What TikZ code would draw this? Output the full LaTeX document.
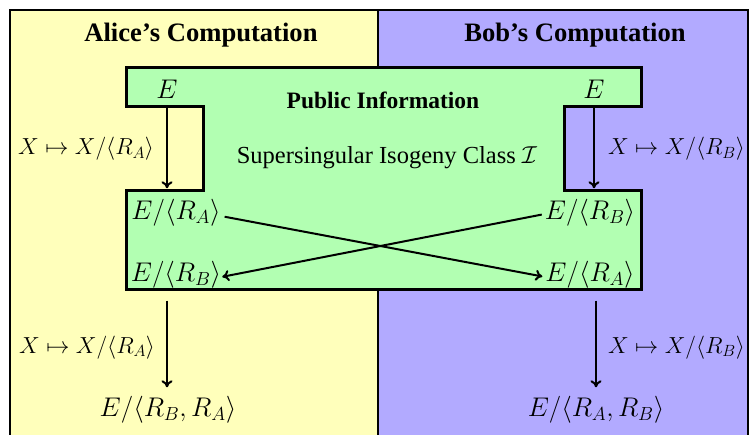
\RequirePackage{fix-cm}
\documentclass[tikz,border=0pt]{standalone}
\usepackage{fontspec}
\setmainfont{Liberation Serif}
\usetikzlibrary{arrows.meta}

\definecolor{alicebg}{RGB}{255,255,187}
\definecolor{bobbg}{RGB}{178,170,255}
\definecolor{pubbg}{RGB}{178,255,178}

\begin{document}
\begin{tikzpicture}[x=1pt,y=-1pt,
  title/.style={font=\fontsize{26.6}{30}\selectfont\bfseries, inner sep=0pt},
  pubtitle/.style={font=\fontsize{23.5}{28}\selectfont\bfseries, inner sep=0pt},
  body/.style={font=\fontsize{24.5}{28}\selectfont, inner sep=0pt},
  m/.style={font=\fontsize{27}{31}\selectfont, inner sep=0pt},
  lab/.style={font=\fontsize{23.2}{27}\selectfont, inner sep=0pt},
  arr/.style={line width=2pt, -{Computer Modern Rightarrow[length=7pt,width=11pt]}},
  panel/.style={line width=2pt}]
\clip (0,0) rectangle (750,435);
\fill[white] (0,0) rectangle (750,435);

% the two parties' working areas
\filldraw[panel, fill=alicebg] (10,10) rectangle (378,445);
\filldraw[panel, fill=bobbg] (378,10) rectangle (748,445);

% shared public region
\filldraw[fill=pubbg, line width=3pt, line join=miter]
  (126,68) -- (641,68) -- (641,107) -- (564,107) -- (564,191) -- (641,191)
  -- (641,290) -- (126,290) -- (126,191) -- (203,191) -- (203,107)
  -- (126,107) -- cycle;

% headings
\node[title] (alice) at (201,35) {Alice’s Computation};
\node[title] (bob) at (575,35) {Bob’s Computation};
\node[pubtitle] (pub) at (383,100) {Public Information};
\node[body] (class) at (387,158) {Supersingular Isogeny Class $\mathcal{I}$};

% curves
\node[m] (EL) at (167,89) {$E$};
\node[m] (ER) at (594,89) {$E$};
\node[m] (LA) at (176,213) {$E/\langle R_A\rangle$};
\node[m] (RB) at (590,213) {$E/\langle R_B\rangle$};
\node[m] (LB) at (176,275) {$E/\langle R_B\rangle$};
\node[m] (RA) at (590,275) {$E/\langle R_A\rangle$};
\node[m] (LBA) at (168,410) {$E/\langle R_B,R_A\rangle$};
\node[m] (RAB) at (596,410) {$E/\langle R_A,R_B\rangle$};

% isogenies
\draw[arr, shorten <=9pt, shorten >=11pt] (EL.south) -- (EL.south |- LA.north)
  node[lab, midway, left=12pt] (phiA1) {$X\mapsto X/\langle R_A\rangle$};
\draw[arr, shorten <=9pt, shorten >=11pt] (ER.south) -- (ER.south |- RB.north)
  node[lab, midway, right=13pt] (phiB1) {$X\mapsto X/\langle R_B\rangle$};

\draw[arr, shorten <=4pt, shorten >=3pt] ([yshift=-3pt]LA.east) -- ([yshift=-2pt]RA.west);
\draw[arr, shorten <=3pt, shorten >=1pt] ([yshift=-1pt]RB.west) -- ([yshift=-2pt]LB.east);

\draw[arr, shorten <=12pt, shorten >=9pt] (EL |- LB.south) -- (EL |- LBA.north)
  node[lab, midway, left=11pt, yshift=-5pt] (phiA2) {$X\mapsto X/\langle R_A\rangle$};
\draw[arr, shorten <=12pt, shorten >=9pt] (RAB |- RA.south) -- (RAB.north)
  node[lab, midway, right=11pt, yshift=-5pt] (phiB2) {$X\mapsto X/\langle R_B\rangle$};
\end{tikzpicture}
\end{document}
